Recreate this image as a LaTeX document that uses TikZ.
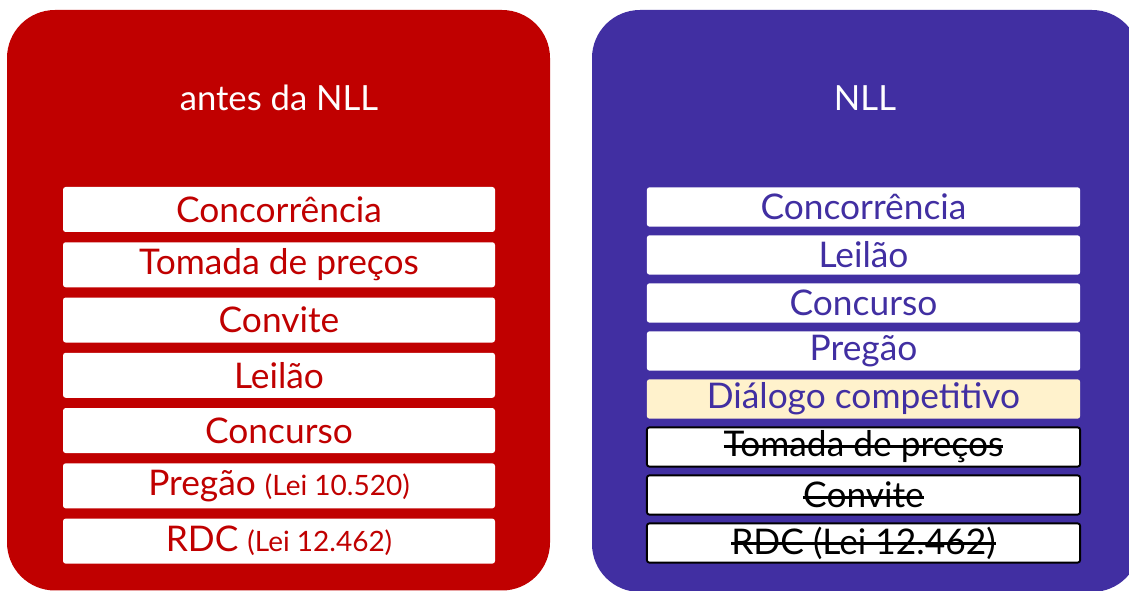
\documentclass[tikz,border=0pt]{standalone}
\usepackage{fontspec}
\setmainfont{Lato}
\usetikzlibrary{positioning}
\definecolor{antesred}{RGB}{192,0,0}
\definecolor{nllblue}{RGB}{65,47,162}
\definecolor{novoyellow}{RGB}{255,242,204}
\newsavebox\strikebox
\newcommand\strikeit[1]{\sbox\strikebox{#1}\rlap{\usebox\strikebox}\rule[0.26em]{\wd\strikebox}{0.07em}}
\newcommand\leinote[1]{{\fontsize{21}{24}\selectfont #1}}
\tikzset{
  panel/.style={rounded corners=36pt},
  title/.style={text=white, font=\fontsize{26}{30}\selectfont},
  redbox/.style={fill=white, rounded corners=2pt, inner sep=0pt, outer sep=0pt,
    minimum width=324pt, minimum height=33.75pt, text=antesred,
    font=\fontsize{26.5}{30}\selectfont},
  bluebox/.style={fill=white, rounded corners=2pt, inner sep=0pt, outer sep=0pt,
    minimum width=325pt, minimum height=29.5pt, text=nllblue,
    font=\fontsize{26.5}{30}\selectfont},
  gonebox/.style={bluebox, draw=black, line width=1.4pt, text=black},
}
\begin{document}
\begin{tikzpicture}[x=0.75pt,y=-0.75pt]
  \useasboundingbox (0,0) rectangle (1129,591);
  \clip (0,0) rectangle (1129,591);
  % panels
  \fill[antesred, panel] (7,10) rectangle (550,590.5);
  \fill[nllblue, panel] (592,10) rectangle (1140,592);
  \node[title] (tantes) at (279,98) {antes da NLL};
  \node[title] (tnll) at (865,98) {NLL};
  % antes da NLL
  \begin{scope}[node distance=7.7pt]
    \node[redbox] (r1) at (279,209.5) {Concorrência};
    \node[redbox, below=of r1] (r2) {Tomada de preços};
    \node[redbox, below=of r2] (r3) {Convite};
    \node[redbox, below=of r3] (r4) {Leilão};
    \node[redbox, below=of r4] (r5) {Concurso};
    \node[redbox, below=of r5] (r6) {Pregão \leinote{(Lei 10.520)}};
    \node[redbox, below=of r6] (r7) {RDC \leinote{(Lei 12.462)}};
  \end{scope}
  % NLL
  \begin{scope}[node distance=6.5pt]
    \node[bluebox] (b1) at (863.5,207) {Concorrência};
    \node[bluebox, below=of b1] (b2) {Leilão};
    \node[bluebox, below=of b2] (b3) {Concurso};
    \node[bluebox, below=of b3] (b4) {Pregão};
    \node[bluebox, fill=novoyellow, below=of b4] (b5) {Diálogo competitivo};
    \node[gonebox, below=of b5] (b6) {\strikeit{Tomada de preços}};
    \node[gonebox, below=of b6] (b7) {\strikeit{Convite}};
    \node[gonebox, below=of b7] (b8) {\strikeit{RDC (Lei 12.462)}};
  \end{scope}
\end{tikzpicture}
\end{document}
